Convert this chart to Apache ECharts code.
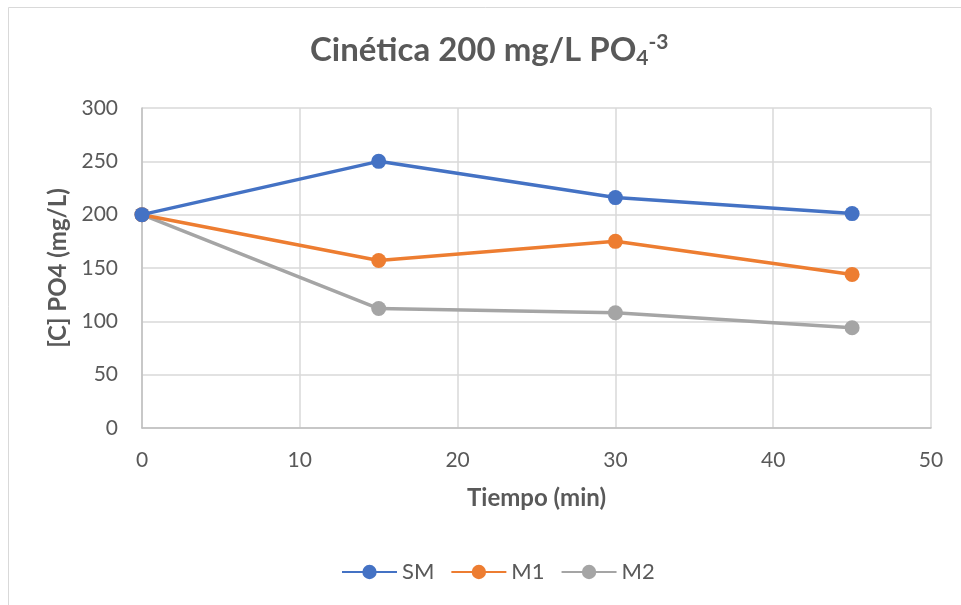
<!DOCTYPE html>
<html>
<head>
<meta charset="utf-8">
<script src="https://cdn.jsdelivr.net/npm/echarts@6/dist/echarts.min.js"></script>
<style>
  html, body { margin: 0; padding: 0; background: #ffffff; }
  #chart { width: 961px; height: 605px; }
</style>
</head>
<body>
<div id="chart"></div>
<script>
// Sampling times (min) and measured phosphate concentration (mg/L)
const tiempos = [0, 15, 30, 45];
const serieSM = [200, 250, 216, 201];
const serieM1 = [200, 157, 175, 144];
const serieM2 = [200, 112, 108, 94];
const nombres = ['SM', 'M1', 'M2'];
const colores = ['#4472C4', '#ED7D31', '#A5A5A5'];

const FONT = 'Lato, "Open Sans", sans-serif';
const TEXT = '#595959';

function puntos(valores) {
  return tiempos.map((t, i) => [t, valores[i]]);
}

const chart = echarts.init(document.getElementById('chart'), null, { renderer: 'canvas' });

chart.setOption({
  backgroundColor: '#ffffff',
  animation: false,
  graphic: [{
    type: 'rect',
    shape: { x: 8.5, y: 7.5, width: 1000, height: 700 },
    style: { fill: 'none', stroke: '#d9d9d9', lineWidth: 1 },
    silent: true
  }],
  title: {
    text: 'Cinética 200 mg/L PO{sub|4}{sup|-3}',
    left: 305,
    top: 27,
    textStyle: {
      fontFamily: FONT,
      fontSize: 33,
      fontWeight: 'bold',
      color: TEXT,
      rich: {
        sub: { fontFamily: FONT, fontSize: 21, fontWeight: 'bold', color: TEXT, padding: [16, 0, 0, 0] },
        sup: { fontFamily: FONT, fontSize: 21, fontWeight: 'bold', color: TEXT, padding: [0, 0, 16, 0] }
      }
    }
  },
  legend: {
    data: nombres,
    bottom: 17,
    left: 336,
    itemWidth: 55,
    itemHeight: 18,
    itemGap: 16,
    textStyle: { fontFamily: FONT, fontSize: 22, color: TEXT }
  },
  grid: { left: 142, right: 30, top: 108, bottom: 177, containLabel: false },
  xAxis: {
    type: 'value',
    min: 0,
    max: 50,
    interval: 10,
    name: 'Tiempo (min)',
    nameLocation: 'middle',
    nameGap: 58,
    nameTextStyle: { fontFamily: FONT, fontSize: 24, fontWeight: 'bold', color: TEXT },
    axisLine: { show: true, lineStyle: { color: '#bfbfbf', width: 1.5 } },
    axisTick: { show: false },
    axisLabel: { margin: 22, fontFamily: FONT, fontSize: 21, color: TEXT },
    splitLine: { show: true, lineStyle: { color: '#d9d9d9', width: 1.5 } }
  },
  yAxis: {
    type: 'value',
    min: 0,
    max: 300,
    interval: 50,
    name: '[C] PO4 (mg/L)',
    nameLocation: 'middle',
    nameGap: 62,
    nameTextStyle: { fontFamily: FONT, fontSize: 24, fontWeight: 'bold', color: TEXT },
    axisLine: { show: true, lineStyle: { color: '#bfbfbf', width: 1.5 } },
    axisTick: { show: false },
    axisLabel: { margin: 24, fontFamily: FONT, fontSize: 21, color: TEXT },
    splitLine: { show: true, lineStyle: { color: '#d9d9d9', width: 1.5 } }
  },
  series: [serieSM, serieM1, serieM2].map((vals, i) => ({
    name: nombres[i],
    type: 'line',
    data: puntos(vals),
    symbol: 'circle',
    symbolSize: 15,
    color: colores[i],
    lineStyle: { width: 3.5, color: colores[i] },
    itemStyle: { color: colores[i] },
    z: 3 - i
  }))
});
</script>
</body>
</html>
